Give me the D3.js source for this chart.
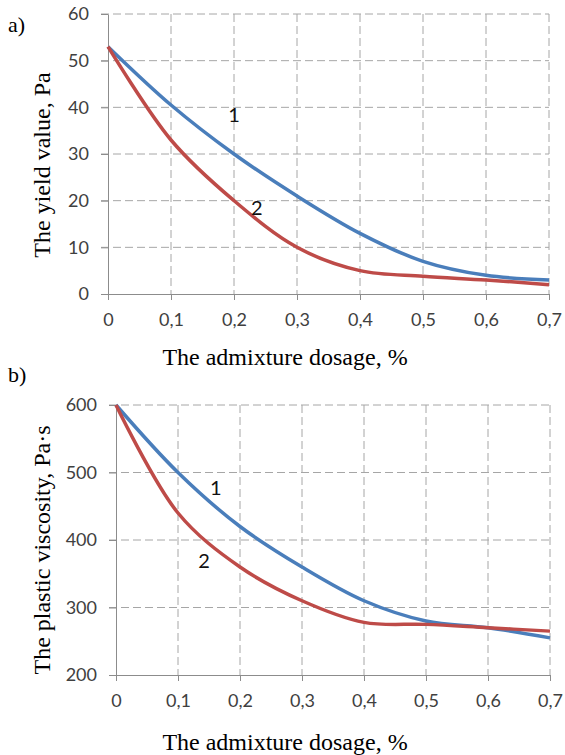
<!DOCTYPE html>
<html>
<head>
<meta charset="utf-8">
<script src="https://cdn.jsdelivr.net/npm/d3@7"></script>
<style>
  body { margin: 0; background: #fff; }
  svg { display: block; }
</style>
</head>
<body>
<svg id="chart" width="565" height="755"></svg>
<script>
// dosage values (%)
const dosage = [0, 0.1, 0.2, 0.3, 0.4, 0.5, 0.6, 0.7];
const xTicks = [0, 0.1, 0.2, 0.3, 0.4, 0.5, 0.6, 0.7];

// a) yield value, Pa
const yieldCurve1 = [53, 40.5, 30, 21, 13, 7, 4, 3];
const yieldCurve2 = [53, 33, 20, 10, 5, 3.8, 3, 2];
const yieldTicks = [0, 10, 20, 30, 40, 50, 60];

// b) plastic viscosity, Pa·s
const viscCurve1 = [600, 500, 420, 360, 310, 280, 270, 255];
const viscCurve2 = [600, 440, 360, 310, 278, 275, 270, 265];
const viscTicks = [200, 300, 400, 500, 600];

const svg = d3.select("#chart");
const blue = "#4a7ebb", red = "#be4b48", grid = "#a6a6a6";
const fmt = d => String(d).replace(".", ",");
const serif = "'Liberation Serif', 'Times New Roman', serif";
const sans = "Lato, 'Open Sans', sans-serif";

function panel(cfg) {
    const x = d3.scaleLinear().domain([0, 0.7]).range([cfg.left, cfg.right]);
    const y = d3.scaleLinear().domain(cfg.yDomain).range([cfg.bottom, cfg.top]);
    const g = svg.append("g");

    // dashed grid
    g.selectAll(".hg").data(cfg.yTicks.filter(d => d !== cfg.yDomain[0]))
        .enter().append("line")
        .attr("x1", cfg.left - 7).attr("x2", cfg.right)
        .attr("y1", d => y(d)).attr("y2", d => y(d))
        .attr("stroke", grid).attr("stroke-width", 1).attr("stroke-dasharray", "8,4");
    g.selectAll(".vg").data(xTicks.slice(1))
        .enter().append("line")
        .attr("x1", d => x(d)).attr("x2", d => x(d))
        .attr("y1", cfg.top).attr("y2", cfg.bottom)
        .attr("stroke", grid).attr("stroke-width", 1).attr("stroke-dasharray", "8,4");

    // axes
    const xAxis = g.append("g")
        .attr("transform", `translate(0,${cfg.bottom})`)
        .call(d3.axisBottom(x).tickValues(xTicks).tickFormat(fmt).tickSize(6).tickSizeOuter(0).tickPadding(13));
    const yAxis = g.append("g")
        .attr("transform", `translate(${cfg.left},0)`)
        .call(d3.axisLeft(y).tickValues(cfg.yTicks).tickSize(7).tickSizeOuter(0).tickPadding(12));
    [xAxis, yAxis].forEach(a => {
        a.select(".domain").attr("stroke", "#8c8c8c");
        a.selectAll(".tick line").attr("stroke", "#8c8c8c");
        a.selectAll(".tick text").attr("fill", "#404040")
            .style("font-family", sans).style("font-size", "18px");
    });

    // curves
    const line = d3.line()
        .x((d, i) => x(dosage[i]))
        .y(d => y(d))
        .curve(d3.curveCatmullRom.alpha(0.5));
    g.append("path").datum(cfg.s1).attr("d", line)
        .attr("fill", "none").attr("stroke", blue).attr("stroke-width", 3.5);
    g.append("path").datum(cfg.s2).attr("d", line)
        .attr("fill", "none").attr("stroke", red).attr("stroke-width", 3.5);

    // curve numbers
    cfg.labels.forEach(l => {
        g.append("text").attr("x", x(l.x)).attr("y", y(l.y))
            .attr("text-anchor", "middle").attr("dominant-baseline", "middle")
            .style("font-family", sans).style("font-size", "20px")
            .attr("fill", "#111").text(l.t);
    });

    // titles
    g.append("text").attr("x", 285).attr("y", cfg.xTitleY)
        .attr("text-anchor", "middle")
        .style("font-family", serif).style("font-size", "24px")
        .text("The admixture dosage, %");
    g.append("text")
        .attr("transform", `translate(50,${cfg.yTitleY}) rotate(-90)`)
        .attr("text-anchor", "middle")
        .style("font-family", serif).style("font-size", "24px")
        .text(cfg.yTitle);
    g.append("text").attr("x", cfg.tagX).attr("y", cfg.tagY)
        .style("font-family", serif).style("font-size", "22px")
        .text(cfg.tag);
}

panel({
    left: 108, right: 549, top: 14, bottom: 294,
    yDomain: [0, 60], yTicks: yieldTicks,
    s1: yieldCurve1, s2: yieldCurve2,
    labels: [{ t: "1", x: 0.2, y: 38 }, { t: "2", x: 0.236, y: 18 }],
    xTitleY: 365, yTitle: "The yield value, Pa", yTitleY: 165,
    tag: "a)", tagX: 8, tagY: 32
});

panel({
    left: 116, right: 550, top: 405, bottom: 675,
    yDomain: [200, 600], yTicks: viscTicks,
    s1: viscCurve1, s2: viscCurve2,
    labels: [{ t: "1", x: 0.161, y: 474 }, { t: "2", x: 0.142, y: 366 }],
    xTitleY: 750, yTitle: "The plastic viscosity, Pa·s", yTitleY: 550,
    tag: "b)", tagX: 8, tagY: 382
});
</script>
</body>
</html>
